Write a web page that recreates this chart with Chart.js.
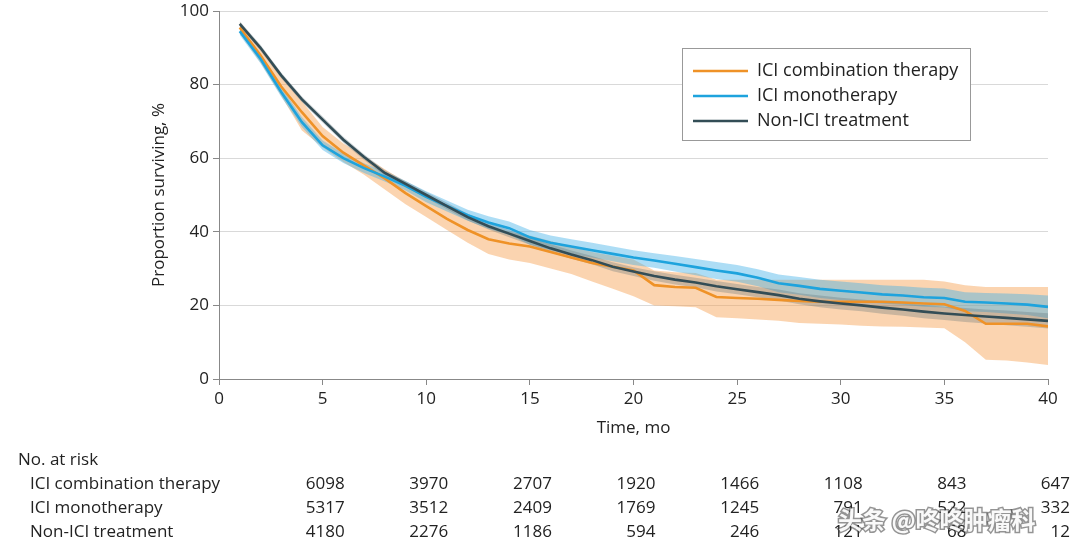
<!DOCTYPE html>
<html>
<head>
<meta charset="utf-8">
<script src="https://cdn.jsdelivr.net/npm/chart.js@4.4.0/dist/chart.umd.min.js"></script>
<style>
  html, body { margin: 0; padding: 0; background: #fff; }
  #km { display: block; }
</style>
</head>
<body>
<canvas id="km" width="1080" height="553"></canvas>
<script>
const FONT = "'Open Sans', sans-serif";

const months = [1,2,3,4,5,6,7,8,9,10,11,12,13,14,15,16,17,18,19,20,21,22,23,24,25,26,27,28,29,30,31,32,33,34,35,36,37,38,39,40];

const seriesNames = ["ICI combination therapy", "ICI monotherapy", "Non-ICI treatment"];
const lineColors  = ["#ef9227", "#1ea3dd", "#334d56"];
const bandColors  = ["rgba(247,160,80,0.45)", "rgba(60,175,230,0.42)", "rgba(90,110,115,0.30)"];

const comboSurv = [95.5,88,79.5,72.5,66,61.5,58,54.5,50.5,47,43.5,40.5,38,36.8,36,34.5,33,31.5,30.5,29.5,25.5,25,24.8,22.3,22,21.8,21.5,21.2,21,21,21,21,20.8,20.5,20.3,18.5,15,15,15,14.3];
const comboUpper = [97,90,82,75.5,68.5,64,60.5,57,53.5,50,47,44,41.5,40,39,37.5,36,34.5,33.5,32.5,29.5,29,28.8,27,27,27,27,27,27,27,27,27,27,27,26.5,25.5,25,25,25,25];
const comboLower = [94,86,77,67.5,63,59,55.5,51.5,47.5,44,40.5,37,34,32.5,31.5,30,28.5,26.5,24.5,22.5,20,19.8,19.5,16.8,16.5,16.2,15.8,15.2,15,14.8,14.5,14.3,14.2,14,13.8,10,5.2,5,4.5,3.8];

const monoSurv = [94.5,87,78,69.8,63.5,60,57.3,55,52.5,49.5,47,44.5,42.5,41,38.5,37,36,35,34,33,32.2,31.3,30.4,29.5,28.7,27.5,26,25.3,24.5,24,23.5,23,22.7,22.2,22,21,20.8,20.5,20.2,19.6];
const monoUpper = [95.5,88.2,79.3,71.1,64.8,61.3,58.6,56.3,53.8,51,48.5,46,44.2,42.8,40.5,39,38,37,36,35,34.2,33.4,32.6,31.8,31,29.8,28.4,27.7,27,26.5,26,25.5,25.2,24.8,24.6,23.6,23.4,23.2,23,22.7];
const monoLower = [93.5,85.8,76.7,68.5,62.2,58.7,56,53.7,51.2,48,45.5,43,40.8,39.2,36.5,35,34,33,32,31,30.2,29.2,28.2,27.2,26.4,25.2,23.6,22.9,22,21.5,21,20.5,20.2,19.6,19.4,18.4,18.2,17.8,17.4,16.5];

const nonSurv = [96.5,90,82.5,76,70.5,65,60.3,56,53,50,47,44,41.5,39.5,37.5,35.5,33.8,32.3,30.5,29.2,28,27,26.2,25.2,24.4,23.6,22.8,21.8,21.1,20.5,20,19.4,18.9,18.3,17.8,17.4,17,16.6,16.2,15.8];
const nonUpper = [97.2,90.8,83.3,76.8,71.3,65.8,61.1,56.8,53.8,50.8,47.9,44.9,42.4,40.5,38.5,36.6,34.9,33.4,31.7,30.4,29.3,28.3,27.5,26.6,25.8,25,24.3,23.3,22.7,22.1,21.6,21.1,20.6,20.1,19.6,19.3,18.9,18.6,18.2,17.9];
const nonLower = [95.8,89.2,81.7,75.2,69.7,64.2,59.5,55.2,52.2,49.2,46.1,43.1,40.6,38.5,36.5,34.4,32.7,31.2,29.3,28,26.7,25.7,24.9,23.8,23,22.2,21.3,20.3,19.5,18.9,18.4,17.7,17.2,16.5,16,15.5,15.1,14.6,14.2,13.7];

const riskTimes  = [5,10,15,20,25,30,35,40];
const riskCombo  = [6098,3970,2707,1920,1466,1108,843,647];
const riskMono   = [5317,3512,2409,1769,1245,791,522,332];
const riskNon    = [4180,2276,1186,594,246,121,68,12];

const toPts = (ys) => months.map((m, i) => ({ x: m, y: ys[i] }));

const survs  = [comboSurv, monoSurv, nonSurv];
const uppers = [comboUpper, monoUpper, nonUpper];
const lowers = [comboLower, monoLower, nonLower];

const datasets = [];
// bands first, orange at the bottom
seriesNames.forEach((name, i) => {
  datasets.push({
    label: name + " upper",
    data: toPts(uppers[i]),
    borderWidth: 0, pointRadius: 0,
    backgroundColor: bandColors[i],
    fill: "+1",
    order: 9 - i
  });
  datasets.push({
    label: name + " lower",
    data: toPts(lowers[i]),
    borderWidth: 0, pointRadius: 0,
    fill: false,
    order: 9 - i
  });
});
seriesNames.forEach((name, i) => {
  datasets.push({
    label: name,
    data: toPts(survs[i]),
    borderColor: lineColors[i],
    borderWidth: 2.6,
    pointRadius: 0,
    fill: false,
    order: 3 - i
  });
});

const legendBox = {
  id: "legendBox",
  afterDatasetsDraw(chart){
    const ctx = chart.ctx;
    const x0 = 682, y0 = 48, w = 288, h = 92;
    ctx.save();
    ctx.fillStyle = "#fff";
    ctx.fillRect(x0, y0, w, h);
    ctx.strokeStyle = "#999";
    ctx.lineWidth = 1;
    ctx.strokeRect(x0 + 0.5, y0 + 0.5, w, h);
    ctx.font = "18px " + FONT;
    ctx.textBaseline = "middle";
    seriesNames.forEach((name, i) => {
      const y = y0 + 23 + i * 25;
      ctx.strokeStyle = lineColors[i];
      ctx.lineWidth = 2.6;
      ctx.beginPath();
      ctx.moveTo(693, y);
      ctx.lineTo(748, y);
      ctx.stroke();
      ctx.fillStyle = "#222";
      ctx.fillText(name, 757, y);
    });
    ctx.restore();
  }
};

const riskTable = {
  id: "riskTable",
  afterDraw(chart){
    const ctx = chart.ctx;
    const xs = chart.scales.x;
    ctx.save();
    ctx.fillStyle = "#222";
    ctx.textBaseline = "middle";
    ctx.font = "17px " + FONT;
    ctx.textAlign = "left";
    ctx.fillText("No. at risk", 18, 460);
    const rows = [riskCombo, riskMono, riskNon];
    rows.forEach((vals, r) => {
      const y = 484 + r * 24;
      ctx.textAlign = "left";
      ctx.fillText(seriesNames[r], 30, y);
      ctx.textAlign = "right";
      vals.forEach((v, c) => {
        ctx.fillText(String(v), xs.getPixelForValue(riskTimes[c]) + 22, y);
      });
    });
    // watermark overlay
    ctx.textAlign = "left";
    ctx.font = "bold 24px 'Noto Sans CJK SC', sans-serif";
    ctx.lineWidth = 3;
    ctx.strokeStyle = "rgba(60,60,60,0.55)";
    ctx.strokeText("头条 @咚咚肿瘤科", 838, 520);
    ctx.fillStyle = "rgba(255,255,255,0.95)";
    ctx.fillText("头条 @咚咚肿瘤科", 838, 520);
    ctx.restore();
  }
};

new Chart(document.getElementById("km"), {
  type: "line",
  data: { datasets },
  options: {
    responsive: false,
    animation: false,
    layout: { padding: { left: 0, right: 32, top: 11, bottom: 0 } },
    plugins: { legend: { display: false }, tooltip: { enabled: false } },
    elements: { line: { tension: 0 } },
    scales: {
      x: {
        type: "linear",
        min: 0, max: 40,
        ticks: { stepSize: 5, color: "#222", font: { family: FONT, size: 17 }, padding: 4, maxRotation: 0 },
        grid: { drawOnChartArea: false, tickLength: 6, tickColor: "#888" },
        border: { color: "#888", width: 1 },
        title: { display: true, text: "Time, mo", color: "#222", font: { family: FONT, size: 17 }, padding: { top: 115, bottom: 115 } },
        afterFit(scale){ scale.height = 174; scale.paddingLeft = 0; scale.paddingRight = 0; }
      },
      y: {
        min: 0, max: 100,
        ticks: { stepSize: 20, color: "#222", font: { family: FONT, size: 17 }, padding: 4 },
        grid: { color: "#d9d9d9", tickLength: 6, tickColor: "#888" },
        border: { color: "#888", width: 1 },
        title: { display: true, text: "Proportion surviving, %", color: "#222", font: { family: FONT, size: 17 }, padding: { top: 149, bottom: 149 } },
        afterFit(scale){ scale.width = 219; scale.paddingTop = 0; scale.paddingBottom = 0; }
      }
    }
  },
  plugins: [legendBox, riskTable]
});
</script>
</body>
</html>
